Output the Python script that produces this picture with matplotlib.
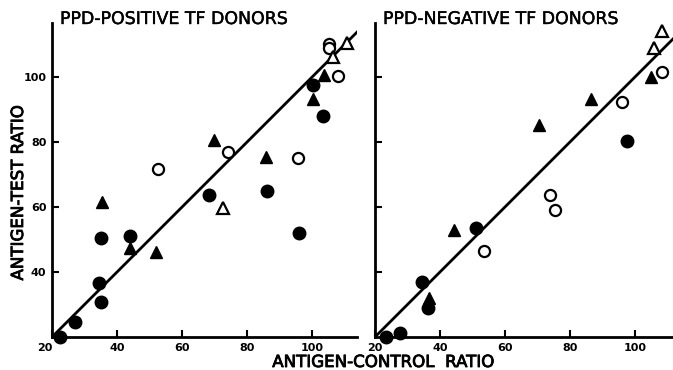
import matplotlib
matplotlib.use("Agg")
import matplotlib.pyplot as plt
import matplotlib.patheffects as pe

# values (antigen-control ratio, antigen-test ratio)

# PPD-positive donors
pos_filled_circle_x = [22.5, 27.1, 34.6, 35.1, 35.0, 44.0, 68.3, 86.0, 96.1, 100.4, 103.4]
pos_filled_circle_y = [20.0, 24.5, 36.5, 30.8, 50.4, 51.1, 63.8, 65.0, 52.1, 97.5, 88.0]
pos_filled_tri_x = [35.3, 44.0, 51.9, 69.9, 85.7, 100.4, 103.7]
pos_filled_tri_y = [61.6, 47.3, 46.0, 80.6, 75.3, 93.1, 100.5]
pos_open_circle_x = [52.7, 74.0, 95.6, 108.1, 105.2, 105.2]
pos_open_circle_y = [71.6, 77.0, 75.2, 100.3, 110.2, 108.9]
pos_open_tri_x = [72.5, 106.5, 110.8]
pos_open_tri_y = [59.6, 106.2, 110.5]

# PPD-negative donors
neg_filled_circle_x = [23.4, 27.7, 34.6, 36.4, 51.1, 97.4]
neg_filled_circle_y = [20.0, 21.3, 36.9, 29.0, 53.4, 80.3]
neg_filled_tri_x = [36.7, 44.4, 70.6, 86.4, 104.9]
neg_filled_tri_y = [32.1, 52.8, 85.2, 93.1, 100.0]
neg_open_circle_x = [53.6, 73.8, 75.4, 95.9, 108.4]
neg_open_circle_y = [46.5, 63.7, 59.0, 92.4, 101.6]
neg_open_tri_x = [106.0, 108.4]
neg_open_tri_y = [109.0, 114.2]

x_ticks = [20, 40, 60, 80, 100]
y_ticks = [40, 60, 80, 100]

# slightly heavier strokes, like the printed lettering
heavy = [pe.withStroke(linewidth=0.6, foreground="black")]

fig = plt.figure(figsize=(6.73, 3.70), dpi=100)
ax1 = fig.add_axes([0.0773, 0.0892, 0.4532, 0.8486])
ax2 = fig.add_axes([0.5572, 0.0892, 0.4428, 0.8486])


def draw_panel(ax, fc, tri, oc, otri, xmax, title, title_x):
    ax.set_xlim(20, xmax)
    ax.set_ylim(20, 116.6)
    # line of identity
    ax.plot([20, 130], [20, 130], color="black", linewidth=2, zorder=1)
    ax.plot(fc[0], fc[1], "o", color="black", markersize=9, zorder=3, clip_on=False)
    ax.plot(tri[0], tri[1], "^", color="black", markersize=9, zorder=3, clip_on=False)
    ax.plot(oc[0], oc[1], "o", markerfacecolor="white", markeredgecolor="black",
            markeredgewidth=1.6, markersize=8, zorder=3, clip_on=False)
    ax.plot(otri[0], otri[1], "^", markerfacecolor="white", markeredgecolor="black",
            markeredgewidth=1.6, markersize=9, zorder=3, clip_on=False)
    for s in ["top", "right"]:
        ax.spines[s].set_visible(False)
    for s in ["left", "bottom"]:
        ax.spines[s].set_linewidth(2)
    ax.set_xticks(x_ticks)
    ax.set_yticks(y_ticks)
    ax.tick_params(direction="in", length=5, width=1.5, pad=4)
    for lab in ax.get_xticklabels() + ax.get_yticklabels():
        lab.set_fontweight("bold")
        lab.set_fontsize(8)
    fig.text(title_x, 1 - 19 / 370, title, fontsize=12.5, ha="left", va="center",
             path_effects=[pe.withStroke(linewidth=0.3, foreground="black")])


draw_panel(ax1,
           (pos_filled_circle_x, pos_filled_circle_y),
           (pos_filled_tri_x, pos_filled_tri_y),
           (pos_open_circle_x, pos_open_circle_y),
           (pos_open_tri_x, pos_open_tri_y),
           113.8, "PPD-POSITIVE TF DONORS", 60 / 673)
draw_panel(ax2,
           (neg_filled_circle_x, neg_filled_circle_y),
           (neg_filled_tri_x, neg_filled_tri_y),
           (neg_open_circle_x, neg_open_circle_y),
           (neg_open_tri_x, neg_open_tri_y),
           111.7, "PPD-NEGATIVE TF DONORS", 383 / 673)

ax2.set_yticklabels([])
ax1.get_xticklabels()[0].set_horizontalalignment("right")

fig.text(18 / 673, 1 - 193 / 370, "ANTIGEN-TEST RATIO", rotation=90,
         fontsize=12, ha="center", va="center", path_effects=heavy)
fig.text(383 / 673, 1 - 362 / 370, "ANTIGEN-CONTROL  RATIO",
         fontsize=12, ha="center", va="center", path_effects=heavy)

fig.savefig("out.png", dpi=100)
